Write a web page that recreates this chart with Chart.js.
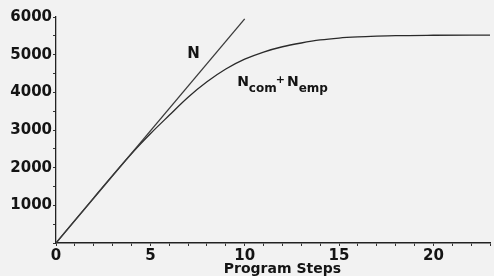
<!DOCTYPE html>
<html>
<head>
<meta charset="utf-8">
<script src="https://cdn.jsdelivr.net/npm/chart.js@4/dist/chart.umd.min.js"></script>
<style>
  html, body { margin: 0; padding: 0; background: #f2f2f2; }
  #wrap { width: 494px; height: 276px; position: relative; }
</style>
</head>
<body>
<div id="wrap"><canvas id="c"></canvas></div>
<script>
// Data
const nSteps = [0, 10];
const nValues = [0, 5950];

const sumSteps  = [0, 2, 4, 5, 6, 7, 8, 9, 10, 11, 12, 13, 14, 15, 16, 17, 18, 20, 23];
const sumValues = [0, 1200, 2370, 2900, 3390, 3870, 4280, 4620, 4880, 5070, 5210, 5310, 5390, 5440, 5470, 5490, 5505, 5515, 5520];

const xMajorLabels = [0, 5, 10, 15, 20];
const yMajorLabels = [1000, 2000, 3000, 4000, 5000, 6000];
const xTitle = 'Program Steps';

const FONT = '"DejaVu Sans", sans-serif';
const INK = '#141414';

const toPoints = (xs, ys) => xs.map((x, i) => ({ x: x, y: ys[i] }));

const bgPlugin = {
  id: 'bg',
  beforeDraw(chart) {
    const ctx = chart.ctx;
    ctx.save();
    ctx.fillStyle = '#f2f2f2';
    ctx.fillRect(0, 0, chart.width, chart.height);
    ctx.restore();
  }
};

const textPlugin = {
  id: 'texts',
  afterDraw(chart) {
    const ctx = chart.ctx;
    const xs = chart.scales.x, ys = chart.scales.y;
    ctx.save();
    ctx.fillStyle = INK;
    ctx.textBaseline = 'alphabetic';
    ctx.textAlign = 'left';

    // "N" label
    ctx.font = 'bold 15px ' + FONT;
    ctx.fillText('N', xs.getPixelForValue(6.95), ys.getPixelForValue(4900));

    // "Ncom+Nemp" label
    let px = xs.getPixelForValue(9.6);
    const base = ys.getPixelForValue(4180);
    ctx.font = 'bold 14px ' + FONT;
    ctx.fillText('N', px, base);
    px += ctx.measureText('N').width;
    ctx.font = 'bold 12px ' + FONT;
    ctx.fillText('com', px, base + 6);
    px += ctx.measureText('com').width;
    ctx.font = 'bold 11px ' + FONT;
    ctx.fillText('+', px - 1, base - 3);
    px += ctx.measureText('+').width + 1;
    ctx.font = 'bold 14px ' + FONT;
    ctx.fillText('N', px, base);
    px += ctx.measureText('N').width;
    ctx.font = 'bold 12px ' + FONT;
    ctx.fillText('emp', px, base + 6);

    // x-axis title
    ctx.font = 'bold 14px ' + FONT;
    ctx.textAlign = 'center';
    ctx.fillText(xTitle, xs.getPixelForValue(12), 273);
    ctx.restore();
  }
};

new Chart(document.getElementById('c'), {
  type: 'line',
  data: {
    datasets: [
      {
        label: 'N',
        data: toPoints(nSteps, nValues),
        borderColor: '#3a3a3a',
        borderWidth: 1.3,
        pointRadius: 0,
        fill: false,
        tension: 0
      },
      {
        label: 'Ncom+Nemp',
        data: toPoints(sumSteps, sumValues),
        borderColor: '#2a2a2a',
        borderWidth: 1.3,
        pointRadius: 0,
        fill: false,
        cubicInterpolationMode: 'monotone'
      }
    ]
  },
  options: {
    responsive: true,
    maintainAspectRatio: false,
    animation: false,
    devicePixelRatio: 1,
    layout: { padding: { top: 17, right: 4, left: 0, bottom: 0 } },
    plugins: { legend: { display: false }, tooltip: { enabled: false }, title: { display: false } },
    scales: {
      x: {
        type: 'linear',
        min: 0,
        max: 23,
        afterFit(scale) { scale.height = 33; },
        ticks: {
          stepSize: 1,
          autoSkip: false,
          maxRotation: 0,
          color: INK,
          font: { family: FONT, weight: 'bold', size: 15 },
          padding: 1,
          callback: (v) => xMajorLabels.includes(v) ? String(v) : ''
        },
        grid: { display: true, drawOnChartArea: false, drawTicks: true, tickLength: 3, color: '#333', lineWidth: 1 },
        border: { display: true, color: '#222', width: 1.6 }
      },
      y: {
        type: 'linear',
        min: 0,
        max: 6000,
        afterFit(scale) { scale.width = 56; },
        ticks: {
          stepSize: 500,
          autoSkip: false,
          color: INK,
          font: { family: FONT, weight: 'bold', size: 15 },
          padding: 1,
          callback: (v) => yMajorLabels.includes(v) ? String(v) : ''
        },
        grid: { display: true, drawOnChartArea: false, drawTicks: true, tickLength: 3, color: '#333', lineWidth: 1 },
        border: { display: true, color: '#222', width: 1.3 }
      }
    }
  },
  plugins: [bgPlugin, textPlugin]
});
</script>
</body>
</html>
